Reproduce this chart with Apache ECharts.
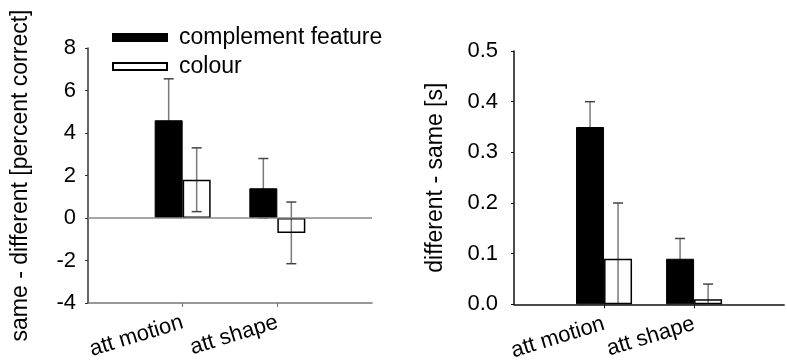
<!DOCTYPE html>
<html>
<head>
<meta charset="utf-8">
<script src="https://cdn.jsdelivr.net/npm/echarts@6/dist/echarts.min.js"></script>
<style>
  html, body { margin: 0; padding: 0; background: #fff; }
  #chart { width: 787px; height: 363px; }
</style>
</head>
<body>
<div id="chart"></div>
<script>
// categories, padded with an empty slot each side so ticks sit at 1 and 2
const categories = ['', 'att motion', 'att shape', ''];
const seriesNames = ['complement feature', 'colour'];

// left panel: same - different [percent correct]
const accFeature = [4.6, 1.4];
const accFeatureErr = [1.95, 1.4];
const accColour = [1.8, -0.7];
const accColourErr = [1.5, 1.45];

// right panel: different - same [s]
const rtFeature = [0.35, 0.09];
const rtFeatureErr = [0.05, 0.04];
const rtColour = [0.09, 0.01];
const rtColourErr = [0.11, 0.03];

const FONT = 'Liberation Sans, Arial, sans-serif';
const BAR_W = 28;

function pad(arr) {
  return ['-'].concat(arr, ['-']);
}

function errData(vals, errs) {
  return vals.map((v, i) => [i + 1, v, errs[i]]);
}

function errSeries(idx, vals, errs, side, yMin) {
  return {
    type: 'custom',
    xAxisIndex: idx,
    yAxisIndex: idx,
    z: 1,
    silent: true,
    data: errData(vals, errs),
    encode: { x: 0, y: 1 },
    renderItem: function (params, api) {
      const x = api.value(0), v = api.value(1), e = api.value(2);
      const dx = side * BAR_W / 2;
      const top = api.coord([x, v + e]);
      const lowVal = Math.max(v - e, yMin);
      const bot = api.coord([x, lowVal]);
      const cx = top[0] + dx;
      const children = [
        { type: 'line', shape: { x1: cx, y1: top[1], x2: cx, y2: bot[1] },
          style: { stroke: '#7a7a7a', lineWidth: 1.5 } },
        { type: 'line', shape: { x1: cx - 5, y1: top[1], x2: cx + 5, y2: top[1] },
          style: { stroke: '#444', lineWidth: 1.5 } }
      ];
      if (v - e >= yMin) {
        children.push({ type: 'line', shape: { x1: cx - 5, y1: bot[1], x2: cx + 5, y2: bot[1] },
          style: { stroke: '#444', lineWidth: 1.5 } });
      }
      return { type: 'group', children: children };
    }
  };
}

function barSeries(idx, name, vals, black, extra) {
  return Object.assign({
    type: 'bar',
    name: name,
    xAxisIndex: idx,
    yAxisIndex: idx,
    barWidth: BAR_W,
    barGap: '0%',
    z: 3,
    data: pad(vals),
    itemStyle: black
      ? { color: '#000', borderColor: '#000', borderWidth: 1 }
      : { color: 'rgba(255,255,255,0)', borderColor: '#000', borderWidth: 1.5 },
    emphasis: { disabled: true }
  }, extra || {});
}

function xAxis(idx, lineColor) {
  return {
    type: 'category',
    gridIndex: idx,
    data: categories,
    boundaryGap: false,
    axisLine: { onZero: false, lineStyle: { color: lineColor, width: 1.5 } },
    axisTick: {
      interval: function (i) { return i === 1 || i === 2; },
      length: 4,
      lineStyle: { color: lineColor, width: 1 }
    },
    axisLabel: {
      interval: 0,
      rotate: 17,
      margin: 19,
      color: '#000',
      fontFamily: FONT,
      fontSize: 22
    },
    splitLine: { show: false }
  };
}

const chart = echarts.init(document.getElementById('chart'));
chart.setOption({
  animation: false,
  backgroundColor: '#fff',
  legend: {
    left: 107,
    top: 21,
    orient: 'vertical',
    itemWidth: 54,
    itemHeight: 7,
    itemGap: 6,
    selectedMode: false,
    data: seriesNames,
    icon: 'rect',
    textStyle: { color: '#000', fontFamily: FONT, fontSize: 23, padding: [0, 0, 0, 7] }
  },
  grid: [
    { left: 88, top: 48, right: 415, bottom: 60 },
    { left: 514, top: 51, width: 285, bottom: 58 }
  ],
  xAxis: [xAxis(0, '#777'), xAxis(1, '#111')],
  yAxis: [
    {
      type: 'value',
      gridIndex: 0,
      min: -4,
      max: 8,
      interval: 2,
      name: 'same - different [percent correct]',
      nameLocation: 'middle',
      nameGap: 56,
      nameTextStyle: { color: '#000', fontFamily: FONT, fontSize: 23 },
      axisLine: { show: true, lineStyle: { color: '#333', width: 1.5 } },
      axisTick: { show: true, length: 3, lineStyle: { color: '#333' } },
      axisLabel: { margin: 12, color: '#000', fontFamily: FONT, fontSize: 22 },
      splitLine: { show: false }
    },
    {
      type: 'value',
      gridIndex: 1,
      min: 0,
      max: 0.5,
      interval: 0.1,
      name: 'different - same [s]',
      nameLocation: 'middle',
      nameGap: 67,
      nameTextStyle: { color: '#000', fontFamily: FONT, fontSize: 23 },
      axisLine: { show: true, lineStyle: { color: '#111', width: 1.5 } },
      axisTick: { show: true, length: 3, lineStyle: { color: '#111' } },
      axisLabel: {
        margin: 16, color: '#000', fontFamily: FONT, fontSize: 22,
        formatter: function (v) { return v.toFixed(1); }
      },
      splitLine: { show: false }
    }
  ],
  series: [
    barSeries(0, seriesNames[0], accFeature, true, {
      markLine: {
        silent: true,
        symbol: 'none',
        label: { show: false },
        lineStyle: { color: '#888', width: 1.5, type: 'solid' },
        data: [{ yAxis: 0 }]
      }
    }),
    barSeries(0, seriesNames[1], accColour, false),
    errSeries(0, accFeature, accFeatureErr, -1, -4),
    errSeries(0, accColour, accColourErr, 1, -4),
    barSeries(1, seriesNames[0], rtFeature, true),
    barSeries(1, seriesNames[1], rtColour, false),
    errSeries(1, rtFeature, rtFeatureErr, -1, 0),
    errSeries(1, rtColour, rtColourErr, 1, 0)
  ]
});
</script>
</body>
</html>
